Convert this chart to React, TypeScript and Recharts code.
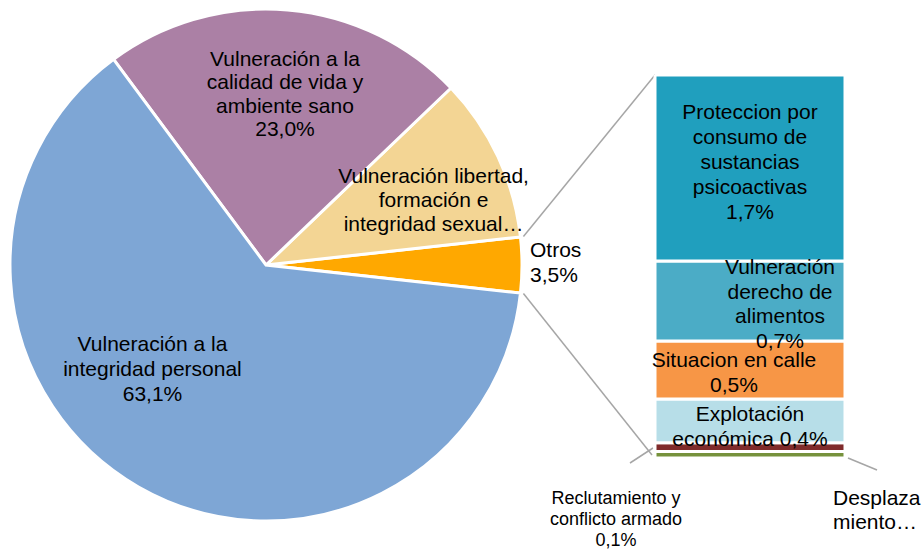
import React from 'react';
import { PieChart, Pie, Cell, BarChart, Bar, XAxis, YAxis } from 'recharts';

// pie slices, in drawing order (counter-clockwise from the right)
const pieNames = ['Otros', 'Vulneración libertad, formación e integridad sexual', 'Vulneración a la calidad de vida y ambiente sano', 'Vulneración a la integridad personal'];
const pieValues = [3.5, 10.4, 23.0, 63.1];
const pieColors = ['#FFA800', '#F3D594', '#AB80A5', '#7EA6D5'];
const pieLabelLines = [
    ['Otros'],
    ['Vulneración libertad,', 'formación e', 'integridad sexual…'],
    ['Vulneración a la', 'calidad de vida y', 'ambiente sano'],
    ['Vulneración a la', 'integridad personal'],
];
const pieShowPct = [true, false, true, true];

// breakdown of "Otros", bottom to top
const barKeys = ['desplazamiento', 'reclutamiento', 'explotacion', 'situacion', 'alimentos', 'proteccion'];
const barValues = [0.06, 0.08, 0.4, 0.53, 0.73, 1.7];
const barColors = ['#76923C', '#7F2B2B', '#B7DEE8', '#F79646', '#4BACC6', '#209FBE'];
const barLabelLines = [
    ['Desplaza', 'miento…'],
    ['Reclutamiento y', 'conflicto armado'],
    ['Explotación', 'económica'],
    ['Situacion en calle'],
    ['Vulneración', 'derecho de', 'alimentos'],
    ['Proteccion por', 'consumo de', 'sustancias', 'psicoactivas'],
];
const barShowPct = [false, true, true, true, true, true];

const W = 923;
const H = 550;
const CX = 266;
const CY = 265;
const R = 256;
const BAR_LEFT = 655;
const BAR_RIGHT = 845;
const BAR_TOP = 75;
const BAR_BOTTOM = 458;
const FONT = '"Liberation Sans", Arial, sans-serif';

const pct = (v: number) => `${v.toFixed(1).replace('.', ',')}%`;

const pieData = pieNames.map((name, i) => ({ name, value: pieValues[i] }));
const barRow: Record<string, number | string> = { name: 'Otros' };
barKeys.forEach((k, i) => { barRow[k] = barValues[i]; });

const otrosHalf = (pieValues[0] / pieValues.reduce((a, b) => a + b, 0)) * 180;

// label anchor (angle in degrees, distance from centre) for each pie slice
const pieLabelPos = [
    { angle: 0.8, r: 264, anchor: 'start', lh: 25 },
    { angle: 21.4, r: 180, anchor: 'middle', lh: 24 },
    { angle: 83.7, r: 173, anchor: 'middle', lh: 23.5 },
    { angle: 222.1, r: 153, anchor: 'middle', lh: 25 },
];

const MultiText = ({ x, y, lines, size, lh, anchor = 'middle' }: { x: number; y: number; lines: string[]; size: number; lh: number; anchor?: string }) => {
    const top = y - ((lines.length - 1) * lh) / 2;
    return (
        <text x={x} y={top} textAnchor={anchor as any} fontSize={size} fontFamily={FONT} fill="#000" dominantBaseline="central">
            {lines.map((l, i) => (
                <tspan key={i} x={x} y={top + i * lh}>{l}</tspan>
            ))}
        </text>
    );
};

const renderPieLabel = (props: any) => {
    const i = props.index;
    const p = pieLabelPos[i];
    const rad = (p.angle * Math.PI) / 180;
    const x = CX + p.r * Math.cos(rad);
    const y = CY - p.r * Math.sin(rad);
    const lines = pieShowPct[i] ? [...pieLabelLines[i], pct(pieValues[i])] : pieLabelLines[i];
    return <MultiText key={i} x={x} y={y} lines={lines} size={21} lh={p.lh} anchor={p.anchor} />;
};

// offsets of each bar label from the centre of its segment
const barLabelOffset = [
    { dx: -12, dy: 54, anchor: 'start', size: 21, lh: 24 },
    { dx: -134, dy: 72, anchor: 'middle', size: 18, lh: 21 },
    { dx: 0, dy: 5, anchor: 'middle', size: 21, lh: 25 },
    { dx: -16, dy: 2, anchor: 'middle', size: 21, lh: 25 },
    { dx: 30, dy: 2, anchor: 'middle', size: 21, lh: 24.5 },
    { dx: 0, dy: -7.5, anchor: 'middle', size: 21, lh: 25 },
];

const makeBarLabel = (i: number) => (props: any) => {
    const { x, y, width, height } = props;
    const o = barLabelOffset[i];
    const cx = Number(x) + Number(width) / 2;
    const cy = Number(y) + Number(height) / 2;
    let lines = barLabelLines[i];
    if (barShowPct[i]) {
        if (i === 2) lines = [lines[0], `${lines[1]} ${pct(barValues[i])}`];
        else lines = [...lines, pct(barValues[i])];
    }
    let tx = cx + o.dx;
    if (o.anchor === 'start') tx = Number(x) + Number(width) + o.dx;
    return <MultiText key={i} x={tx} y={cy + o.dy} lines={lines} size={o.size} lh={o.lh} anchor={o.anchor} />;
};

const Connectors = () => {
    const a = (otrosHalf * Math.PI) / 180;
    const ux = CX + (R + 3) * Math.cos(a);
    const uy = CY - (R + 3) * Math.sin(a);
    const ly = CY + (R + 3) * Math.sin(a);
    const redY = BAR_BOTTOM - 10;
    return (
        <svg width={W} height={H} style={{ position: 'absolute', left: 0, top: 0 }}>
            <line x1={ux} y1={uy} x2={BAR_LEFT} y2={BAR_TOP} stroke="#A6A6A6" strokeWidth={1.5} />
            <line x1={ux} y1={ly} x2={BAR_LEFT - 3} y2={BAR_BOTTOM - 3} stroke="#A6A6A6" strokeWidth={1.5} />
            <line x1={BAR_LEFT - 2} y1={redY} x2={BAR_LEFT - 25} y2={redY + 15} stroke="#A6A6A6" strokeWidth={1.5} />
            <line x1={BAR_RIGHT + 3} y1={BAR_BOTTOM} x2={BAR_RIGHT + 32} y2={BAR_BOTTOM + 12} stroke="#A6A6A6" strokeWidth={1.5} />
        </svg>
    );
};

export default function App() {
    const total = barValues.reduce((a, b) => a + b, 0);
    return (
        <div style={{ position: 'absolute', left: 0, top: 0, width: W, height: H, background: '#fff' }}>
            <div style={{ position: 'absolute', left: 0, top: 0 }}>
                <PieChart width={W} height={H} margin={{ top: 0, right: 0, bottom: 0, left: 0 }}>
                    <Pie
                        data={pieData}
                        dataKey="value"
                        nameKey="name"
                        cx={CX}
                        cy={CY}
                        outerRadius={R}
                        startAngle={-otrosHalf}
                        endAngle={360 - otrosHalf}
                        stroke="#fff"
                        strokeWidth={3}
                        label={renderPieLabel}
                        labelLine={false}
                        isAnimationActive={false}
                    >
                        {pieData.map((d, i) => (
                            <Cell key={d.name} fill={pieColors[i]} />
                        ))}
                    </Pie>
                </PieChart>
            </div>
            <Connectors />
            <div style={{ position: 'absolute', left: 0, top: 0 }}>
                <BarChart
                    width={W}
                    height={H}
                    data={[barRow]}
                    margin={{ top: BAR_TOP, right: W - BAR_RIGHT, bottom: H - BAR_BOTTOM, left: BAR_LEFT }}
                    barCategoryGap={0}
                >
                    <XAxis dataKey="name" hide />
                    <YAxis hide domain={[0, total]} allowDataOverflow />
                    {barKeys.map((k, i) => (
                        <Bar
                            key={k}
                            dataKey={k}
                            stackId="otros"
                            fill={barColors[i]}
                            stroke="#fff"
                            strokeWidth={3}
                            label={makeBarLabel(i)}
                            isAnimationActive={false}
                        />
                    ))}
                </BarChart>
            </div>
        </div>
    );
}
